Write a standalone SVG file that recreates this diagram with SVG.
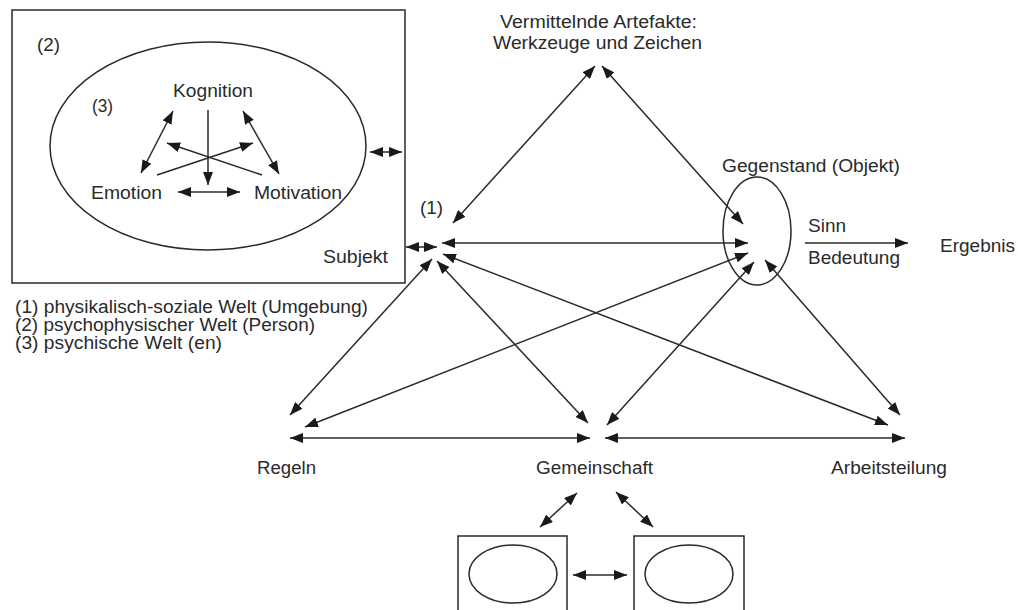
<svg xmlns="http://www.w3.org/2000/svg" width="1018" height="610" viewBox="0 0 1018 610">
  <style>
    text { font-family: "Liberation Sans", Arial, sans-serif; font-size: 17.5px; fill: #2a2a2a; }
    .shape { fill: none; stroke: #2a2a2a; stroke-width: 1.5; }
    .con line { stroke: #2a2a2a; stroke-width: 1.5; }
    .both { marker-start: url(#ah); marker-end: url(#ah); }
    .one { marker-end: url(#ah); }
  </style>
  <defs>
    <marker id="ah" markerUnits="userSpaceOnUse" markerWidth="13" markerHeight="10" refX="13" refY="5" orient="auto-start-reverse" viewBox="0 0 13 10">
      <path d="M0,0 L13,5 L0,10 Z" fill="#1a1a1a"/>
    </marker>
  </defs>
  <rect width="1018" height="610" fill="#ffffff"/>

  <!-- Subjekt: person box with psychic world -->
  <g id="subjekt">
    <rect class="shape" x="12" y="10" width="393" height="273"/>
    <ellipse class="shape" cx="208" cy="146" rx="158" ry="104"/>
    <text x="37" y="51" textLength="23" lengthAdjust="spacingAndGlyphs">(2)</text>
    <text x="92" y="112" textLength="21" lengthAdjust="spacingAndGlyphs">(3)</text>
    <text x="323" y="263" textLength="65" lengthAdjust="spacingAndGlyphs">Subjekt</text>
  </g>
  <g id="kognition"><text x="173" y="97" textLength="80" lengthAdjust="spacingAndGlyphs">Kognition</text></g>
  <g id="emotion"><text x="91" y="199" textLength="71" lengthAdjust="spacingAndGlyphs">Emotion</text></g>
  <g id="motivation"><text x="254" y="199" textLength="88" lengthAdjust="spacingAndGlyphs">Motivation</text></g>

  <g id="legende">
    <text x="15" y="313" textLength="353" lengthAdjust="spacingAndGlyphs">(1) physikalisch-soziale Welt (Umgebung)</text>
    <text x="15" y="331" textLength="300" lengthAdjust="spacingAndGlyphs">(2) psychophysischer Welt (Person)</text>
    <text x="15" y="349" textLength="207" lengthAdjust="spacingAndGlyphs">(3) psychische Welt (en)</text>
  </g>

  <g id="umgebung"><text x="420" y="214" textLength="23" lengthAdjust="spacingAndGlyphs">(1)</text></g>

  <g id="artefakte">
    <text x="500" y="28" textLength="197" lengthAdjust="spacingAndGlyphs">Vermittelnde Artefakte:</text>
    <text x="493" y="49" textLength="209" lengthAdjust="spacingAndGlyphs">Werkzeuge und Zeichen</text>
  </g>

  <g id="gegenstand">
    <ellipse class="shape" cx="757" cy="231" rx="34" ry="54"/>
    <text x="722" y="172" textLength="178" lengthAdjust="spacingAndGlyphs">Gegenstand (Objekt)</text>
  </g>
  <g id="sinn">
    <text x="808" y="232" textLength="38" lengthAdjust="spacingAndGlyphs">Sinn</text>
    <text x="808" y="264" textLength="92" lengthAdjust="spacingAndGlyphs">Bedeutung</text>
  </g>
  <g id="ergebnis"><text x="940" y="252" textLength="75" lengthAdjust="spacingAndGlyphs">Ergebnis</text></g>

  <g id="regeln"><text x="257" y="474" textLength="59" lengthAdjust="spacingAndGlyphs">Regeln</text></g>
  <g id="gemeinschaft"><text x="536" y="474" textLength="117" lengthAdjust="spacingAndGlyphs">Gemeinschaft</text></g>
  <g id="arbeitsteilung"><text x="831" y="474" textLength="116" lengthAdjust="spacingAndGlyphs">Arbeitsteilung</text></g>

  <g id="person-a">
    <rect class="shape" x="458" y="536" width="109" height="90"/>
    <ellipse class="shape" cx="513" cy="574" rx="44" ry="29"/>
  </g>
  <g id="person-b">
    <rect class="shape" x="634" y="536" width="110" height="90"/>
    <ellipse class="shape" cx="689" cy="574" rx="44" ry="29"/>
  </g>

  <g id="connectors" class="con">
    <!-- inside the psychic world -->
    <line class="one" x1="208" y1="110" x2="208" y2="185"/>
    <line class="both" x1="178" y1="192" x2="240" y2="192"/>
    <line class="both" x1="173" y1="111" x2="141" y2="173"/>
    <line class="both" x1="243" y1="111" x2="279" y2="174"/>
    <line class="one" x1="262" y1="175" x2="167" y2="143"/>
    <line class="one" x1="157" y1="175" x2="253" y2="143"/>
    <line class="both" x1="370" y1="152" x2="402" y2="152"/>
    <!-- activity system -->
    <line class="both" x1="406" y1="247" x2="437" y2="247"/>
    <line class="both" x1="453" y1="223" x2="595" y2="66"/>
    <line class="both" x1="602" y1="66" x2="743" y2="224"/>
    <line class="both" x1="442" y1="243" x2="748" y2="243"/>
    <line class="both" x1="290" y1="415" x2="432" y2="259"/>
    <line class="both" x1="437" y1="261" x2="588" y2="423"/>
    <line class="both" x1="443" y1="254" x2="888" y2="425"/>
    <line class="both" x1="305" y1="427" x2="748" y2="253"/>
    <line class="both" x1="607" y1="425" x2="754" y2="262"/>
    <line class="both" x1="765" y1="260" x2="900" y2="415"/>
    <line class="both" x1="290" y1="438" x2="590" y2="438"/>
    <line class="both" x1="605" y1="438" x2="905" y2="438"/>
    <line class="one" x1="805" y1="243" x2="908" y2="243"/>
    <!-- community members -->
    <line class="both" x1="540" y1="527" x2="577" y2="493"/>
    <line class="both" x1="616" y1="492" x2="653" y2="527"/>
    <line class="both" x1="573" y1="575" x2="627" y2="575"/>
  </g>
</svg>
